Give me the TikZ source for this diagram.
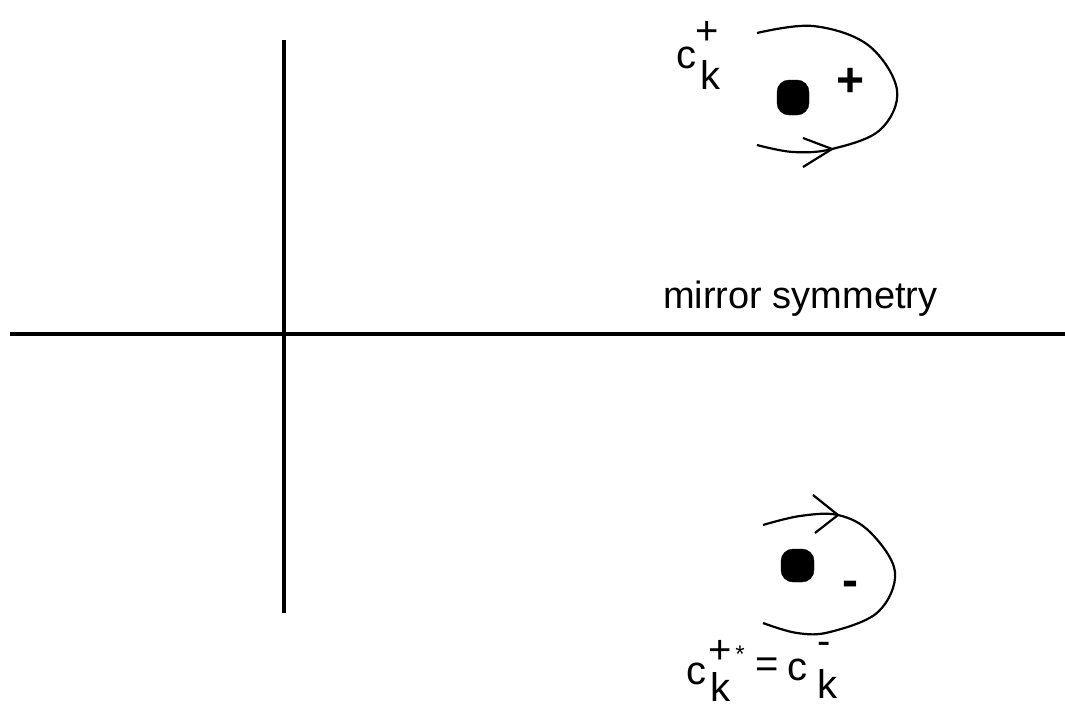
\documentclass[tikz,border=0pt]{standalone}
\usepackage{fontspec}
\setmainfont{Liberation Sans}
\begin{document}
\begin{tikzpicture}[x=1pt,y=-1pt,
  axis/.style={line width=3.5pt},
  contour/.style={line width=2.2pt},
  charge/.style={fill=black, rounded corners=12pt},
  glyph/.style={inner sep=0pt, font=\fontsize{40}{42}\selectfont},
  sign/.style={inner sep=0pt, font=\fontsize{48}{50}\selectfont\bfseries}]
\useasboundingbox (0,0) rectangle (1065,709);
% axes
\coordinate (vt) at (284,40);
\coordinate (vb) at (284,613);
\coordinate (hl) at (10,334);
\coordinate (hr) at (1065,334);
\draw[axis] (vt) -- (vb);
\draw[axis] (hl) -- (hr);
\node[inner sep=0pt, anchor=base west, font=\fontsize{38}{40}\selectfont] (mirror) at (663,308) {mirror symmetry};
% top contour
\coordinate (ta) at (832,149);
\coordinate (ta1) at (803,138);
\coordinate (ta2) at (803,167);
\draw[contour] plot[smooth, tension=0.6] coordinates {(757,33) (813,26) (868,45) (897,90) (880,130) (832,149) (793,152) (757,145)};
\draw[contour] (ta1) -- (ta) -- (ta2);
\draw[charge] (777,80) rectangle (809,115);
\node[sign] (tplus) at (851,82) {+};
\node[glyph] (tc) at (686,58) {c};
\node[glyph] (tk) at (710,75) {k};
\node[glyph] (tsup) at (707,33) {+};
% bottom contour
\coordinate (ba) at (838,515);
\coordinate (ba1) at (813,495);
\coordinate (ba2) at (815,533);
\draw[contour] plot[smooth, tension=0.6] coordinates {(763,525) (800,516) (838,515) (870,532) (895,572) (878,612) (830,632) (797,633) (763,623)};
\draw[contour] (ba1) -- (ba) -- (ba2);
\draw[charge] (781,549) rectangle (814,582);
\node[sign] (bminus) at (850,589) {-};
\node[glyph] (bc1) at (696,674) {c};
\node[glyph] (bk1) at (720,687) {k};
\node[glyph] (bplus) at (720,652) {+};
\node[inner sep=0pt, font=\fontsize{24}{26}\selectfont] (bstar) at (740,654) {*};
\node[glyph] (beq) at (767,668) {=};
\node[glyph] (bc2) at (797,670) {c};
\node[glyph] (bk2) at (827,684) {k};
\node[glyph] (bsup) at (824,648) {-};
\end{tikzpicture}
\end{document}
